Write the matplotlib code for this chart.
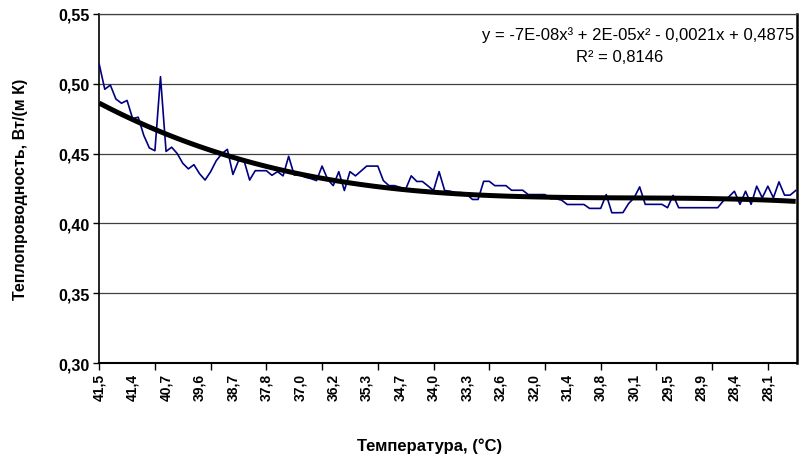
import numpy as np
import matplotlib
matplotlib.use('Agg')
import matplotlib.pyplot as plt
from matplotlib.ticker import MultipleLocator, FixedLocator, FixedFormatter

plt.rcParams['font.family'] = ['Liberation Sans', 'DejaVu Sans']

# thermal conductivity readings (one per sample, temperature falling)
conductivity = [
    0.514, 0.496, 0.499, 0.489, 0.486, 0.488, 0.475, 0.476, 0.463, 0.454,
    0.452, 0.505, 0.4515, 0.4545, 0.450, 0.443, 0.439, 0.442, 0.4356, 0.431,
    0.437, 0.4448, 0.4498, 0.453, 0.435, 0.4448, 0.4448, 0.431, 0.4377, 0.4377,
    0.4377, 0.4344, 0.437, 0.434, 0.448, 0.4346, 0.4346, 0.433, 0.432, 0.4306,
    0.441, 0.4315, 0.427, 0.437, 0.4235, 0.437, 0.434, 0.4375, 0.441, 0.441,
    0.441, 0.4306, 0.427, 0.427, 0.4258, 0.4244, 0.434, 0.430, 0.430, 0.4268,
    0.4235, 0.437, 0.4235, 0.423, 0.422, 0.422, 0.4206, 0.4171, 0.4171, 0.4301,
    0.4301, 0.427, 0.427, 0.427, 0.4237, 0.4237, 0.4237, 0.4206, 0.4206, 0.4206,
    0.4206, 0.4176, 0.4176, 0.4166, 0.4135, 0.4135, 0.4135, 0.4135, 0.4107, 0.4107,
    0.4107, 0.4206, 0.4076, 0.4076, 0.4077, 0.4141, 0.4183, 0.4261, 0.4136, 0.4136,
    0.4136, 0.4136, 0.4112, 0.420, 0.4112, 0.4112, 0.4112, 0.4112, 0.4112, 0.4112,
    0.4112, 0.4112, 0.416, 0.419, 0.423, 0.4136, 0.423, 0.4136, 0.4266, 0.4183,
    0.4266, 0.4183, 0.4297, 0.4202, 0.4202, 0.4235,
]

temp_labels = ['41,5', '41,4', '40,7', '39,6', '38,7', '37,8', '37,0', '36,2',
               '35,3', '34,7', '34,0', '33,3', '32,6', '32,0', '31,4', '30,8',
               '30,1', '29,5', '28,9', '28,4', '28,1']
label_step = 6
tick_step = 10

equation = 'y = -7E-08x³ + 2E-05x² - 0,0021x + 0,4875'
r2_text = 'R² = 0,8146'

y = np.array(conductivity)
x = np.arange(len(y))

# cubic trend like the excel one
coef = np.polyfit(x + 1, y, 3)
trend = np.polyval(coef, x + 1)

fig = plt.figure(figsize=(8, 4.64), dpi=100)
ax = fig.add_axes([0.124, 0.2155, 0.872, 0.7525])

ax.plot(x, y, color='#000080', lw=1.2, zorder=3)
ax.plot(x, trend, color='black', lw=3.6, zorder=4, solid_capstyle='butt')

ax.set_ylim(0.30, 0.55)
ax.set_xlim(0, len(y) - 0.8)
ax.yaxis.set_major_locator(MultipleLocator(0.05))
ax.set_yticklabels([('%.2f' % v).replace('.', ',') for v in ax.get_yticks()])
ax.yaxis.grid(True, color='#404040', lw=0.9)
ax.set_axisbelow(True)

ax.xaxis.remove_overlapping_locs = False
ax.xaxis.set_major_locator(FixedLocator(np.arange(0, len(y), tick_step)))
ax.xaxis.set_major_formatter(FixedFormatter([]))
ax.xaxis.set_minor_locator(FixedLocator(np.arange(len(temp_labels)) * label_step))
ax.xaxis.set_minor_formatter(FixedFormatter(temp_labels))
ax.tick_params(axis='x', which='major', length=5, width=1, direction='out')
ax.tick_params(axis='x', which='minor', length=0, pad=7, labelsize=10,
               labelrotation=90)
ax.tick_params(axis='y', length=4, width=1, direction='out', labelsize=11.5, pad=3)
for lab in ax.get_xticklabels(minor=True) + ax.get_yticklabels():
    lab.set_fontweight('bold')

ax.spines['left'].set_linewidth(1.2)
ax.spines['bottom'].set_linewidth(1.5)
ax.spines['right'].set_linewidth(1.8)
ax.spines['top'].set_color('#404040')
ax.spines['top'].set_linewidth(0.9)

ax.set_ylabel('Теплопроводность, Вт/(м К)', fontsize=11.5, fontweight='bold')
ax.yaxis.set_label_coords(-0.102, 0.5)
ax.set_xlabel('Температура, (°C)', fontsize=12, fontweight='bold')
ax.xaxis.set_label_coords(0.474, -0.212)

fig.text(0.993, 1 - 35 / 464, equation, ha='right', va='center', fontsize=12)
fig.text(0.775, 1 - 58 / 464, r2_text, ha='center', va='center', fontsize=12)

fig.savefig('out.png', dpi=100)
